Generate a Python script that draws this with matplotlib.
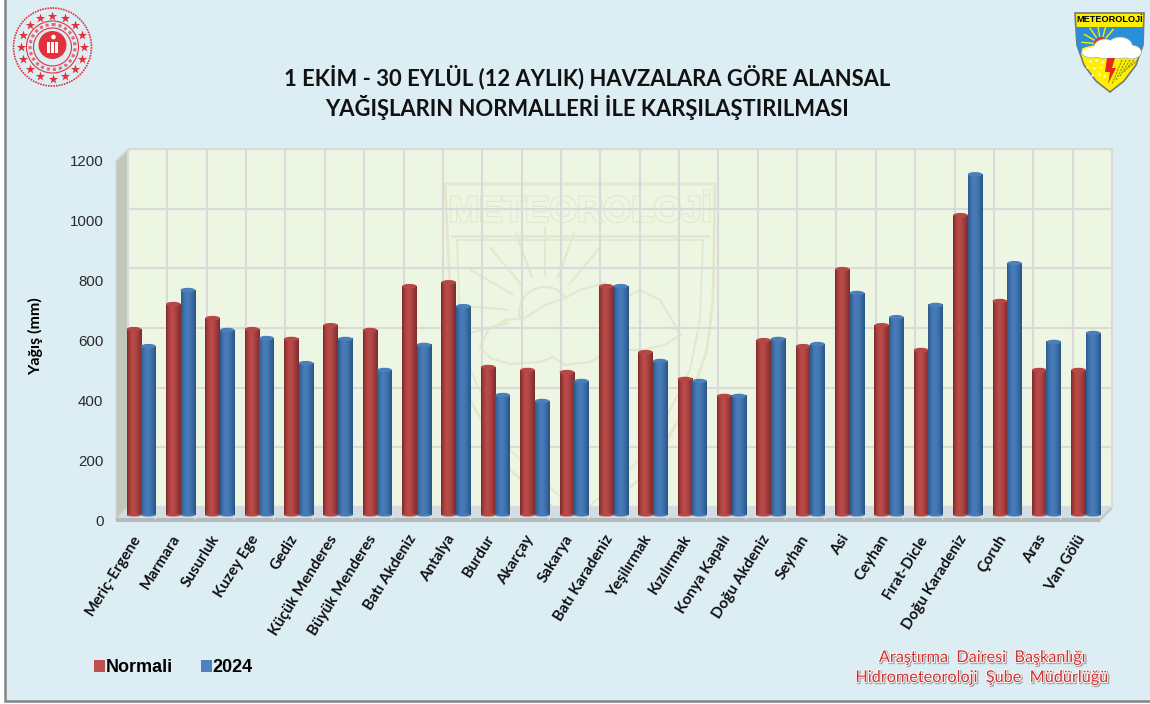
import numpy as np
import matplotlib
matplotlib.use("Agg")
import matplotlib.pyplot as plt
from matplotlib.patches import Polygon, Rectangle, Ellipse, Circle
import matplotlib.patheffects as pe

# havza names and values (mm)
havzalar = ["Meriç-Ergene", "Marmara", "Susurluk", "Kuzey Ege", "Gediz", "Küçük Menderes",
            "Büyük Menderes", "Batı Akdeniz", "Antalya", "Burdur", "Akarçay", "Sakarya",
            "Batı Karadeniz", "Yeşilırmak", "Kızılırmak", "Konya Kapalı", "Doğu Akdeniz",
            "Seyhan", "Asi", "Ceyhan", "Fırat-Dicle", "Doğu Karadeniz", "Çoruh", "Aras", "Van Gölü"]
normali = [623, 707, 660, 623, 590, 636, 620, 767, 780, 496, 486, 479, 767,
           546, 456, 399, 586, 566, 824, 636, 553, 1005, 717, 486, 486]
y2024 = [566, 754, 620, 593, 509, 590, 486, 570, 700, 402, 382, 449, 767,
         516, 449, 399, 590, 573, 744, 663, 704, 1142, 844, 580, 610]
y_ticks = [0, 200, 400, 600, 800, 1000, 1200]

W, H = 1150, 704
BG = "#DCEDF4"
WALL = "#EDF6E2"
GRID = "#DADADA"
WM = "#E5E7CC"


def px_axes(x0, x1, ytop, ybot, z):
    a = fig.add_axes([x0 / W, 1 - ybot / H, (x1 - x0) / W, (ybot - ytop) / H], zorder=z)
    a.set_xlim(-0.5, len(havzalar) - 0.5)
    a.set_ylim(0, 1200)
    return a


fig = plt.figure(figsize=(11.5, 7.04), dpi=100, facecolor="white")

# pixel space layer for frame, side wall and floor
back = fig.add_axes([0, 0, 1, 1], zorder=0)
back.set_xlim(0, W)
back.set_ylim(H, 0)
back.axis("off")
back.add_patch(Rectangle((5, -2), W, 703, fc=BG, ec="#808586", lw=1.8))
back.add_patch(Polygon([(116, 161), (128, 149), (128, 507), (116, 520)], fc="#C0C8BC", ec="#D6D8D6", lw=1))
back.add_patch(Polygon([(116, 520), (128, 507), (1112, 507), (1100, 520)], fc="#CFDFE6", ec="#D6D8D6", lw=1))
for k in range(1, len(havzalar)):
    gx = 116 + k * 984 / len(havzalar)
    back.plot([gx, gx + 12], [519, 507], color="#DADADA", lw=1)
back.add_patch(Rectangle((116, 518), 984, 3.5, fc="#B4BABA", ec="none"))
back.add_patch(Polygon([(1100, 521.5), (1100, 518), (1112, 506), (1112, 509.5)], fc="#C4CBCC", ec="none"))

# back wall with the grid
wall = px_axes(128, 1112, 149, 507, 1)
wall.set_facecolor(WALL)
wall.set_yticks(y_ticks)
wall.set_xticks(np.arange(-0.5, len(havzalar)))
wall.tick_params(left=False, bottom=False, labelleft=False, labelbottom=False)
wall.set_axisbelow(False)
wall.grid(True, color=GRID, lw=1.5)
for s in wall.spines.values():
    s.set_color(GRID)
    s.set_linewidth(1.5)

# faint watermark on the wall, its outlines are in picture pixels
tr = back.transData
sx = [445, 715, 713, 707, 690, 650, 580, 510, 470, 453, 445]
sy = [184, 184, 300, 350, 400, 470, 530, 470, 400, 350, 184]
wall.plot(sx, sy, color=WM, lw=2, transform=tr, zorder=1)
wall.plot([457, 703, 700, 690, 650, 580, 510, 470, 460, 457], [240, 240, 320, 370, 450, 515, 450, 370, 320, 240],
          color=WM, lw=1.3, transform=tr, zorder=1)
wall.plot([452, 708], [236, 236], color=WM, lw=2, transform=tr, zorder=1)
t = wall.text(580, 212, "METEOROLOJİ", transform=tr, ha="center", va="center", fontsize=26,
              family="Liberation Sans", fontweight="bold", color=WALL, zorder=1)
t.set_path_effects([pe.withStroke(linewidth=1.8, foreground=WM), pe.Normal()])
wall.add_patch(Circle((545, 313), 26, fc="none", ec=WM, lw=1.5, transform=tr, zorder=1))
cloud_x = [480, 490, 510, 540, 553, 565, 590, 610, 640, 665, 680, 672, 660, 640, 625, 605, 580, 565, 545, 525, 505, 488, 480]
cloud_y = [347, 358, 364, 362, 357, 365, 362, 350, 350, 345, 335, 320, 300, 290, 298, 283, 290, 298, 305, 318, 320, 330, 347]
wall.fill(np.array(cloud_x), np.array(cloud_y), fc=WALL, ec=WM, lw=1.5, transform=tr, zorder=1)
for ang in np.radians([150, 130, 110, 90, 70, 50, 175, 195]):
    wall.plot([545 + 38 * np.cos(ang), 545 + 85 * np.cos(ang)],
              [313 - 38 * np.sin(ang), 313 - 85 * np.sin(ang)], color=WM, lw=1.5, transform=tr, zorder=1)

# cylinder bars
ax = px_axes(121.5, 1105.5, 157, 515, 2)
ax.patch.set_alpha(0)
ax.axis("off")
x = np.arange(len(havzalar))
bw = 0.37
px_h = 1200 / 358
red_grad = matplotlib.colors.LinearSegmentedColormap.from_list(
    "r", ["#7F2B29", "#AA4240", "#BC4C4A", "#B24543", "#97393A", "#7E2D2B"])
blue_grad = matplotlib.colors.LinearSegmentedColormap.from_list(
    "b", ["#2F5A8E", "#3F72AC", "#4A7EBB", "#4477B2", "#38689F", "#2A5486"])
ramp = np.linspace(0, 1, 32).reshape(1, -1)
sets = [(normali, -bw / 2, "#C0504D", "#B64744", red_grad, "Normali", 3),
        (y2024, bw / 2, "#4F81BD", "#4B7FBB", blue_grad, "2024", 4)]
handles = []
for vals, off, col, cap, cm, lab, z in sets:
    bars = ax.bar(x + off, vals, bw, color=col, zorder=z, label=lab)
    handles.append(bars)
    for b in bars:
        x0, w, v = b.get_x(), b.get_width(), b.get_height()
        ax.imshow(ramp, extent=(x0, x0 + w, 0, v), aspect="auto", cmap=cm, zorder=z, interpolation="bilinear")
        xc = x0 + w / 2
        ax.add_patch(Ellipse((xc, 0), w, 3 * px_h, fc=cm(0.5), ec="none", zorder=z, clip_on=False))
        ax.add_patch(Ellipse((xc, v), w, 4.5 * px_h, fc=cap, ec="none", zorder=z + 0.1, clip_on=False))
ax.set_xlim(-0.5, len(havzalar) - 0.5)
ax.set_ylim(0, 1200)

# front plane axes carries the tick labels
front = px_axes(116, 1100, 161, 520, 3)
front.patch.set_alpha(0)
for s in front.spines.values():
    s.set_visible(False)
front.set_yticks(y_ticks)
front.set_xticks(x - 0.11)
front.set_xticklabels(havzalar, rotation=58, ha="right", rotation_mode="anchor",
                      family="Lato", fontweight="bold", fontsize=11, color="#111111")
front.tick_params(axis="x", length=0, pad=9)
front.tick_params(axis="y", length=0, pad=9, labelsize=10.8, labelcolor="#2A2A2A")
for lb in front.get_yticklabels():
    lb.set_family("Liberation Sans")
front.set_ylabel("Yağış (mm)", family="Lato", fontweight="bold", fontsize=11.5, color="black")
front.yaxis.set_label_coords((43 - 116) / 984, (520 - 336) / 359)

# top layer in pixels: titles, footer, logos
top = fig.add_axes([0, 0, 1, 1], zorder=4)
top.set_xlim(0, W)
top.set_ylim(H, 0)
top.axis("off")
top.patch.set_alpha(0)

for yy, s in [(77, "1 EKİM - 30 EYLÜL (12 AYLIK) HAVZALARA GÖRE ALANSAL"),
              (108, "YAĞIŞLARIN NORMALLERİ İLE KARŞILAŞTIRILMASI")]:
    top.text(587, yy, s, ha="center", va="center", family="Lato", fontweight="bold",
             fontsize=15.8, color="#111111")

for yy, s in [(658, "Araştırma  Dairesi  Başkanlığı"), (678, "Hidrometeoroloji  Şube  Müdürlüğü")]:
    tx = top.text(982, yy, s, ha="center", va="center", family="Lato", fontsize=11.7, color="#D03030")
    tx.set_path_effects([pe.Stroke(linewidth=1.6, foreground="#AAAAAA", offset=(0.8, -0.8)),
                         pe.Stroke(linewidth=1.3, foreground="white"), pe.Normal()])

top.legend([h[0] for h in handles], ["Normali", "2024"], ncol=2, frameon=False,
           loc="center left", bbox_to_anchor=(78 / W, 1 - 668 / H), bbox_transform=fig.transFigure,
           prop={"family": "Liberation Sans", "weight": "bold", "size": 13},
           handlelength=0.6, handleheight=0.6, handletextpad=0.05, columnspacing=1.55)

# ministry seal
SEAL = "#E2313B"
cx, cy = 52.5, 47
top.add_patch(Circle((cx, cy), 39, fc="none", ec=SEAL, lw=1.2, ls=(0, (1, 0.6))))
top.add_patch(Circle((cx, cy), 26, fc="none", ec=SEAL, lw=0.8))
top.add_patch(Circle((cx, cy), 19, fc="none", ec=SEAL, lw=0.8))
top.add_patch(Circle((cx, cy), 22.5, fc="none", ec=SEAL, lw=2.2, ls=(0, (1, 1)), alpha=0.7))
top.add_patch(Circle((cx, cy - 2), 14, fc=SEAL, ec="none"))
ang = np.radians(np.arange(0, 360, 22.5))
top.scatter(cx + 31.5 * np.cos(ang), cy + 31.5 * np.sin(ang), marker="*", s=50, color=SEAL, lw=0)
for dx in (-6, -2, 2):
    top.add_patch(Rectangle((cx + dx, cy - 5), 3, 11, fc="white", ec="none"))
top.add_patch(Circle((cx + 1, cy - 10), 2.3, fc="white", ec="none"))

# meteoroloji badge
shield = [(1075, 13), (1144, 13), (1143, 45), (1136, 65), (1124, 81), (1110, 92),
          (1096, 81), (1084, 65), (1077, 45)]
sh = Polygon(shield, closed=True, fc="#FFF000", ec="#777777", lw=1.2)
top.add_patch(sh)
blue = Rectangle((1075, 27), 70, 26, fc="#2A8FD8", ec="none")
top.add_patch(blue)
blue.set_clip_path(sh)
top.text(1110, 20, "METEOROLOJİ", ha="center", va="center", family="Liberation Sans",
         fontweight="bold", fontsize=6.6, color="black")
top.add_patch(Circle((1101, 44), 7, fc="#E8352A", ec="none"))
for a in np.radians([100, 125, 150, 175, 75, 50, 195]):
    top.plot([1101 + 8 * np.cos(a), 1101 + 19 * np.cos(a)], [44 - 8 * np.sin(a), 44 - 19 * np.sin(a)],
             color="#FFF000", lw=1)
puffs = [(1092, 52, 20, 11), (1105, 48, 22, 17), (1120, 46, 24, 17), (1131, 52, 20, 13), (1112, 53, 44, 11)]
for ex, ey, ew, eh in puffs:
    top.add_patch(Ellipse((ex, ey), ew + 1.5, eh + 1.5, fc="#A9ABAE", ec="none"))
for ex, ey, ew, eh in puffs:
    top.add_patch(Ellipse((ex, ey), ew, eh, fc="white", ec="none"))
top.add_patch(Polygon([(1107, 58), (1115, 58), (1112, 68), (1116, 68), (1108, 84), (1110, 72), (1105, 72)],
                      fc="#E5281F", ec="none"))
for k in range(5):
    l, = top.plot([1122 + 4 * k, 1112 + 4 * k], [60, 84 - 4 * k], color="#8A8A20", lw=0.8, ls=(0, (2, 1)))
    l.set_clip_path(sh)
top.scatter([1090, 1096, 1102, 1087, 1094, 1101, 1092, 1099, 1104], [61, 60, 62, 67, 68, 67, 75, 74, 76],
            s=2.5, color="white", lw=0)

fig.savefig("out.png", dpi=100, facecolor="white")
